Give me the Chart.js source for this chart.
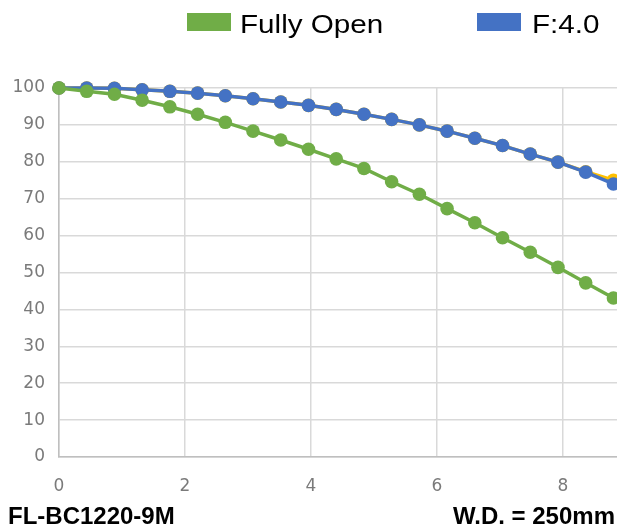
<!DOCTYPE html>
<html>
<head>
<meta charset="utf-8">
<script src="https://cdn.jsdelivr.net/npm/chart.js@4.4.0/dist/chart.umd.min.js"></script>
<style>
  html, body { margin: 0; padding: 0; background: #ffffff; overflow: hidden; }
  #wrap { position: relative; width: 617px; height: 530px; overflow: hidden; font-family: "Liberation Sans", Arial, sans-serif; }
  #chart-canvas { position: absolute; left: 0; top: 0; }
  .legend-box { position: absolute; width: 44px; height: 18px; }
  .legend-text { position: absolute; font-size: 26px; line-height: 26px; color: #000000; white-space: nowrap;
                 transform: scaleX(1.14); transform-origin: left top; }
  .note { position: absolute; font-size: 24px; line-height: 24px; font-weight: bold; color: #000000; white-space: nowrap; }
</style>
</head>
<body>
<div id="wrap">
  <!-- canvas is a bit wider than the page so the plot runs off the right edge like the original -->
  <canvas id="chart-canvas" width="624" height="530"></canvas>
  <div class="legend-box" style="left:187px; top:13px; background:#70ad47;"></div>
  <div class="legend-text" style="left:240px; top:11px;">Fully Open</div>
  <div class="legend-box" style="left:477px; top:13px; background:#4472c4;"></div>
  <div class="legend-text" style="left:532px; top:11px;">F:4.0</div>
  <div class="note" style="left:8px; top:504px;">FL-BC1220-9M</div>
  <div class="note" style="right:2px; top:504px;">W.D. = 250mm</div>
</div>
<script>
// image height positions (mm)
const positions = [0, 0.44, 0.88, 1.32, 1.76, 2.2, 2.64, 3.08, 3.52, 3.96, 4.4,
                   4.84, 5.28, 5.72, 6.16, 6.6, 7.04, 7.48, 7.92, 8.36, 8.8];

// relative illumination (%)
const fullyOpen = [100, 99.1, 98.3, 96.7, 94.9, 92.9, 90.7, 88.3, 85.9, 83.4, 80.8,
                   78.2, 74.6, 71.2, 67.3, 63.5, 59.4, 55.5, 51.4, 47.2, 43.1];
const f40 = [100, 100, 99.9, 99.5, 99.1, 98.6, 97.9, 97.1, 96.2, 95.3, 94.2,
             92.9, 91.5, 90.0, 88.3, 86.4, 84.4, 82.1, 79.9, 77.2, 74.0];
// series hidden behind F:4.0, only peeks out at the right end
const f80 = [100, 100, 99.9, 99.5, 99.1, 98.6, 97.9, 97.1, 96.2, 95.3, 94.2,
             92.9, 91.5, 90.0, 88.3, 86.4, 84.4, 82.1, 79.9, 77.3, 75.0];

const xTicks = [0, 2, 4, 6, 8];
const yTicks = [0, 10, 20, 30, 40, 50, 60, 70, 80, 90, 100];

function toPoints(values) {
  return values.map((v, i) => ({ x: positions[i], y: v }));
}

function makeSeries(label, values, color) {
  return {
    label: label,
    data: toPoints(values),
    borderColor: color,
    backgroundColor: color,
    borderWidth: 3.5,
    pointRadius: 6.8,
    pointBorderWidth: 0,
    pointHoverRadius: 6.8,
    clip: false,
  };
}

const ctx = document.getElementById("chart-canvas").getContext("2d");

// first dataset ends up on top
new Chart(ctx, {
  type: "line",
  data: {
    datasets: [
      makeSeries("Fully Open", fullyOpen, "#70ad47"),
      makeSeries("F:4.0", f40, "#4472c4"),
      makeSeries("F:8.0", f80, "#ffc000"),
    ],
  },
  options: {
    responsive: false,
    animation: false,
    layout: {
      padding: { top: 88, right: 0, left: 0, bottom: 0 },
    },
    scales: {
      x: {
        type: "linear",
        min: 0,
        max: 8.86,
        afterBuildTicks: function (scale) {
          scale.ticks = xTicks.map((v) => ({ value: v }));
        },
        afterFit: function (scale) {
          scale.height = 73;
        },
        grid: {
          color: "#d9d9d9",
          lineWidth: 1.5,
          drawTicks: false,
        },
        border: { color: "#bfbfbf", width: 1.5 },
        ticks: {
          padding: 19,
          color: "#7a7a7a",
          font: { family: "DejaVu Sans", size: 17 },
        },
      },
      y: {
        min: 0,
        max: 100,
        afterBuildTicks: function (scale) {
          scale.ticks = yTicks.map((v) => ({ value: v }));
        },
        afterFit: function (scale) {
          scale.width = 59;
        },
        grid: {
          color: "#d9d9d9",
          lineWidth: 1.5,
          drawTicks: false,
        },
        border: { color: "#bfbfbf", width: 1.5 },
        ticks: {
          padding: 14,
          color: "#7a7a7a",
          font: { family: "DejaVu Sans", size: 17 },
        },
      },
    },
    plugins: {
      legend: { display: false },
      tooltip: { enabled: false },
    },
  },
});
</script>
</body>
</html>
